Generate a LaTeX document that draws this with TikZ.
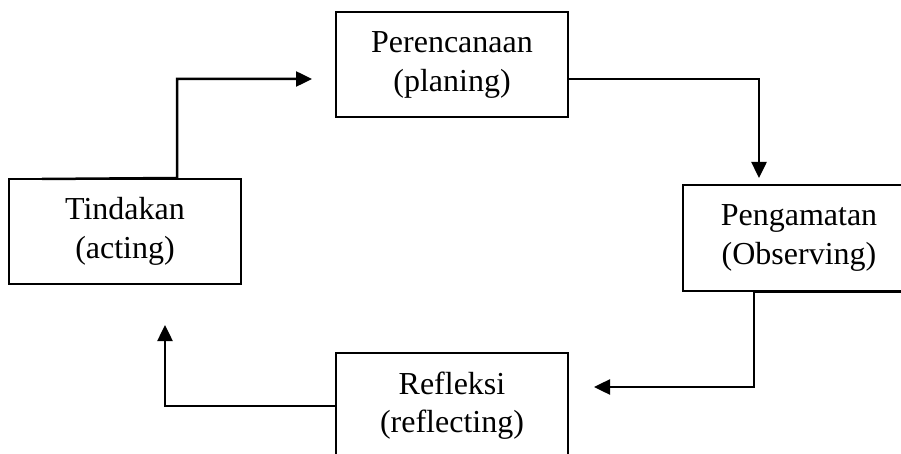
\documentclass[tikz,border=0pt]{standalone}
\usepackage{fontspec}
\setmainfont{Liberation Serif}
\usetikzlibrary{arrows.meta}
\tikzset{
  stagebox/.style={draw=black, line width=2pt, minimum width=232pt, minimum height=105pt,
    inner sep=0pt, align=center, font=\fontsize{32}{38.5}\selectfont},
  conn/.style={draw=black, line width=2.5pt, line join=miter},
  tipped/.style={conn, -{Triangle[length=16pt,width=15pt]}}
}
\begin{document}
\begin{tikzpicture}[x=1pt,y=-1pt]
\useasboundingbox (0,0) rectangle (901,454);
\clip (0,0) rectangle (901,454);
\node[stagebox] (pere) at (452,65) {Perencanaan\\(planing)};
\node[stagebox] (tind) at (125,231.5) {Tindakan\\(acting)};
\node[stagebox] (pen) at (799,238) {Pengamatan\\(Observing)};
\node[stagebox] (refl) at (452,405.5) {Refleksi\\(reflecting)};
\coordinate (s1) at (42,179);
\coordinate (b1) at (177,79);
\coordinate (e1) at (312,79);
\coordinate (b2) at (759,79);
\coordinate (e2) at (759,178);
\coordinate (b3) at (754,300);
\coordinate (e3) at (594,387);
\coordinate (b4) at (300,406);
\coordinate (e4) at (165,325);
\draw[tipped] (s1) -- (tind.north -| b1) |- (e1);
\draw[tipped] (pere.east |- b2) -| (e2);
\draw[tipped] (pen.south east) -- (pen.south -| b3) |- (e3);
\draw[tipped] (refl.west |- b4) -| (e4);
\end{tikzpicture}
\end{document}
